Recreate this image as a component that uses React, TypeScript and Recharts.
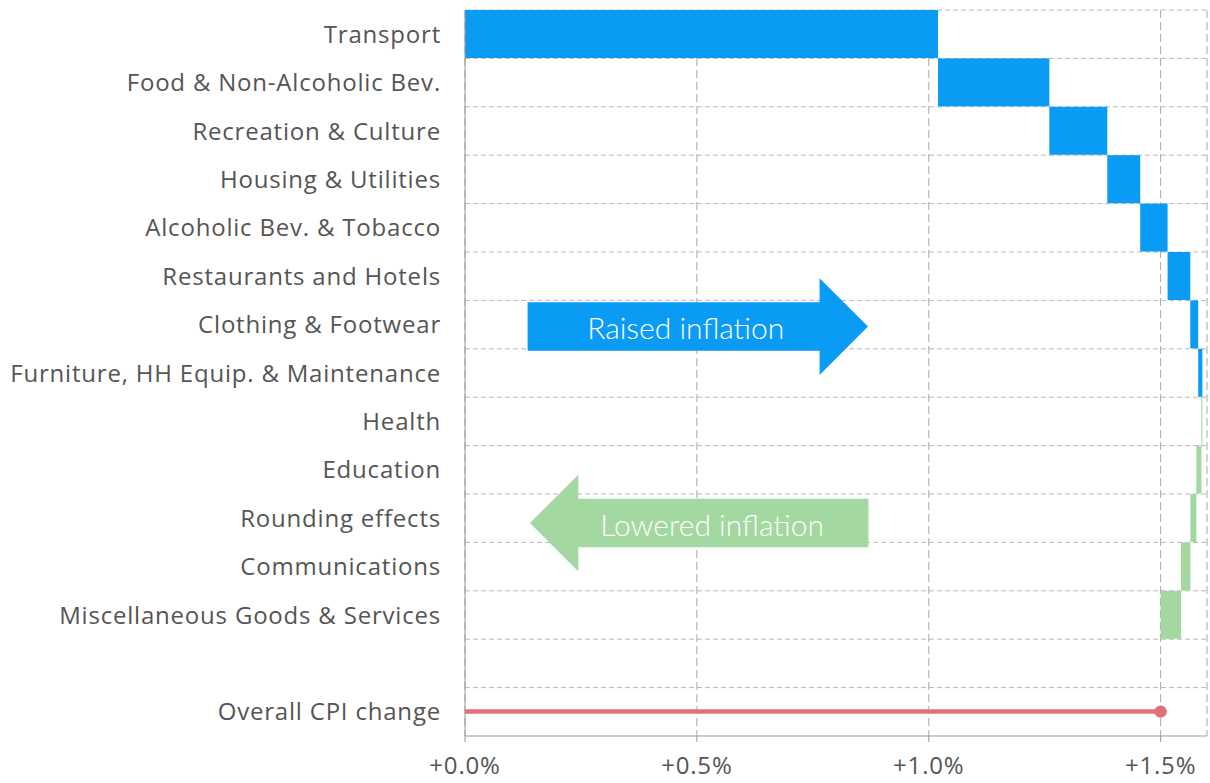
import React from "react";
import { ComposedChart, Bar, XAxis, YAxis, CartesianGrid, ReferenceArea } from "recharts";

const categories = [
  "Transport",
  "Food & Non-Alcoholic Bev.",
  "Recreation & Culture",
  "Housing & Utilities",
  "Alcoholic Bev. & Tobacco",
  "Restaurants and Hotels",
  "Clothing & Footwear",
  "Furniture, HH Equip. & Maintenance",
  "Health",
  "Education",
  "Rounding effects",
  "Communications",
  "Miscellaneous Goods & Services",
  "",
  "Overall CPI change",
];

// contribution (percentage points) of each component, in order
const contributions = [1.02, 0.24, 0.125, 0.071, 0.059, 0.049, 0.017, 0.009, -0.002, -0.011, -0.013, -0.02, -0.044];
const overallChange = 1.5;
const xTicks = [0, 0.5, 1.0, 1.5];
const xDomain = [0, 1.6];

const raisedArrow = { from: 0.135, to: 0.869, labelAt: 0.476, row: "Clothing & Footwear", text: "Raised inflation" };
const loweredArrow = { from: 0.14, to: 0.87, labelAt: 0.533, row: "Rounding effects", text: "Lowered inflation" };

const BLUE = "#0A9BF5";
const GREEN = "#A3D8A0";
const RED = "#E0717B";
const FONT = "Lato, 'Open Sans', sans-serif";
const LABEL_FONT = "'Open Sans', Lato, sans-serif";

type Row = { name: string; range: [number, number] | null; delta: number | null; total: boolean };

const rows: Row[] = (() => {
  let cum = 0;
  return categories.map((name, i) => {
    if (i < contributions.length) {
      const start = cum;
      cum += contributions[i];
      return {
        name,
        range: [Math.min(start, cum), Math.max(start, cum)] as [number, number],
        delta: contributions[i],
        total: false,
      };
    }
    if (name === "Overall CPI change") {
      return { name, range: [0, overallChange] as [number, number], delta: overallChange, total: true };
    }
    return { name, range: null, delta: null, total: false };
  });
})();

const BarShape = (props: any) => {
  const { x, y, width, height, payload } = props;
  if (!payload || payload.range == null) return null;
  if (payload.total) {
    const cy = y + height / 2;
    return (
      <g>
        <line x1={x} x2={x + width} y1={cy} y2={cy} stroke={RED} strokeWidth={4.5} />
        <circle cx={x + width} cy={cy} r={6.2} fill={RED} />
      </g>
    );
  }
  return (
    <rect
      x={x}
      y={y}
      width={Math.max(Math.abs(width), 1)}
      height={height}
      fill={payload.delta >= 0 ? BLUE : GREEN}
    />
  );
};

const makeArrow =
  (dir: "right" | "left", text: string, labelFrac: number, fill: string, dyFrac: number) =>
  (props: any) => {
    const { x, y, width, height } = props;
    if (x == null || y == null) return null;
    const cy = y + height / 2 + height * dyFrac;
    const half = height / 2;
    const head = height;
    let pts: number[][];
    if (dir === "right") {
      const b = x + width - head;
      pts = [
        [x, cy - half],
        [b, cy - half],
        [b, cy - height],
        [x + width, cy],
        [b, cy + height],
        [b, cy + half],
        [x, cy + half],
      ];
    } else {
      const b = x + head;
      pts = [
        [x + width, cy - half],
        [b, cy - half],
        [b, cy - height],
        [x, cy],
        [b, cy + height],
        [b, cy + half],
        [x + width, cy + half],
      ];
    }
    return (
      <g>
        <polygon points={pts.map((p) => p.join(",")).join(" ")} fill={fill} />
        <text
          x={x + width * labelFrac}
          y={cy + 12.5}
          textAnchor="middle"
          fill="#ffffff"
          fontSize={30}
          fontFamily={FONT}
          fontWeight={300}
        >
          {text}
        </text>
      </g>
    );
  };

const frac = (a: { from: number; to: number; labelAt: number }) => (a.labelAt - a.from) / (a.to - a.from);

const bandLines = (props: any) => {
  const off = props.offset;
  const n = categories.length;
  return Array.from({ length: n }, (_, i) => off.top + (i * off.height) / n);
};

const tickStyle = { fill: "#555555", fontSize: 24, fontFamily: LABEL_FONT, fontWeight: 400, letterSpacing: 0.8 };

export default function App() {
  return (
    <div style={{ position: "absolute", left: 0, top: 0, fontFamily: LABEL_FONT }}>
      <ComposedChart
        width={1210}
        height={783}
        data={rows}
        layout="vertical"
        barCategoryGap={0}
        margin={{ top: 10, right: 3, bottom: 0, left: 0 }}
      >
        <CartesianGrid
          vertical={false}
          stroke="#b8b8b8"
          strokeDasharray="5 3"
          horizontalCoordinatesGenerator={bandLines}
        />
        <CartesianGrid horizontal={false} stroke="#a8a8a8" strokeDasharray="8 4" />
        <XAxis
          type="number"
          domain={xDomain}
          ticks={xTicks}
          tickFormatter={(v: number) => `+${v.toFixed(1)}%`}
          height={47}
          tickSize={6}
          tickMargin={15}
          axisLine={{ stroke: "#999999" }}
          tickLine={{ stroke: "#999999" }}
          tick={tickStyle}
          allowDataOverflow
        />
        <YAxis
          type="category"
          dataKey="name"
          width={465}
          interval={0}
          tickLine={false}
          tickSize={0}
          tickMargin={24}
          axisLine={{ stroke: "#999999" }}
          tick={tickStyle}
        />
        <Bar dataKey="range" isAnimationActive={false} shape={BarShape} />
        <ReferenceArea
          x1={raisedArrow.from}
          x2={raisedArrow.to}
          y1={raisedArrow.row}
          y2={raisedArrow.row}
          shape={makeArrow("right", raisedArrow.text, frac(raisedArrow), BLUE, 0.04)}
        />
        <ReferenceArea
          x1={loweredArrow.from}
          x2={loweredArrow.to}
          y1={loweredArrow.row}
          y2={loweredArrow.row}
          shape={makeArrow("left", loweredArrow.text, frac(loweredArrow), GREEN, 0.1)}
        />
      </ComposedChart>
    </div>
  );
}
